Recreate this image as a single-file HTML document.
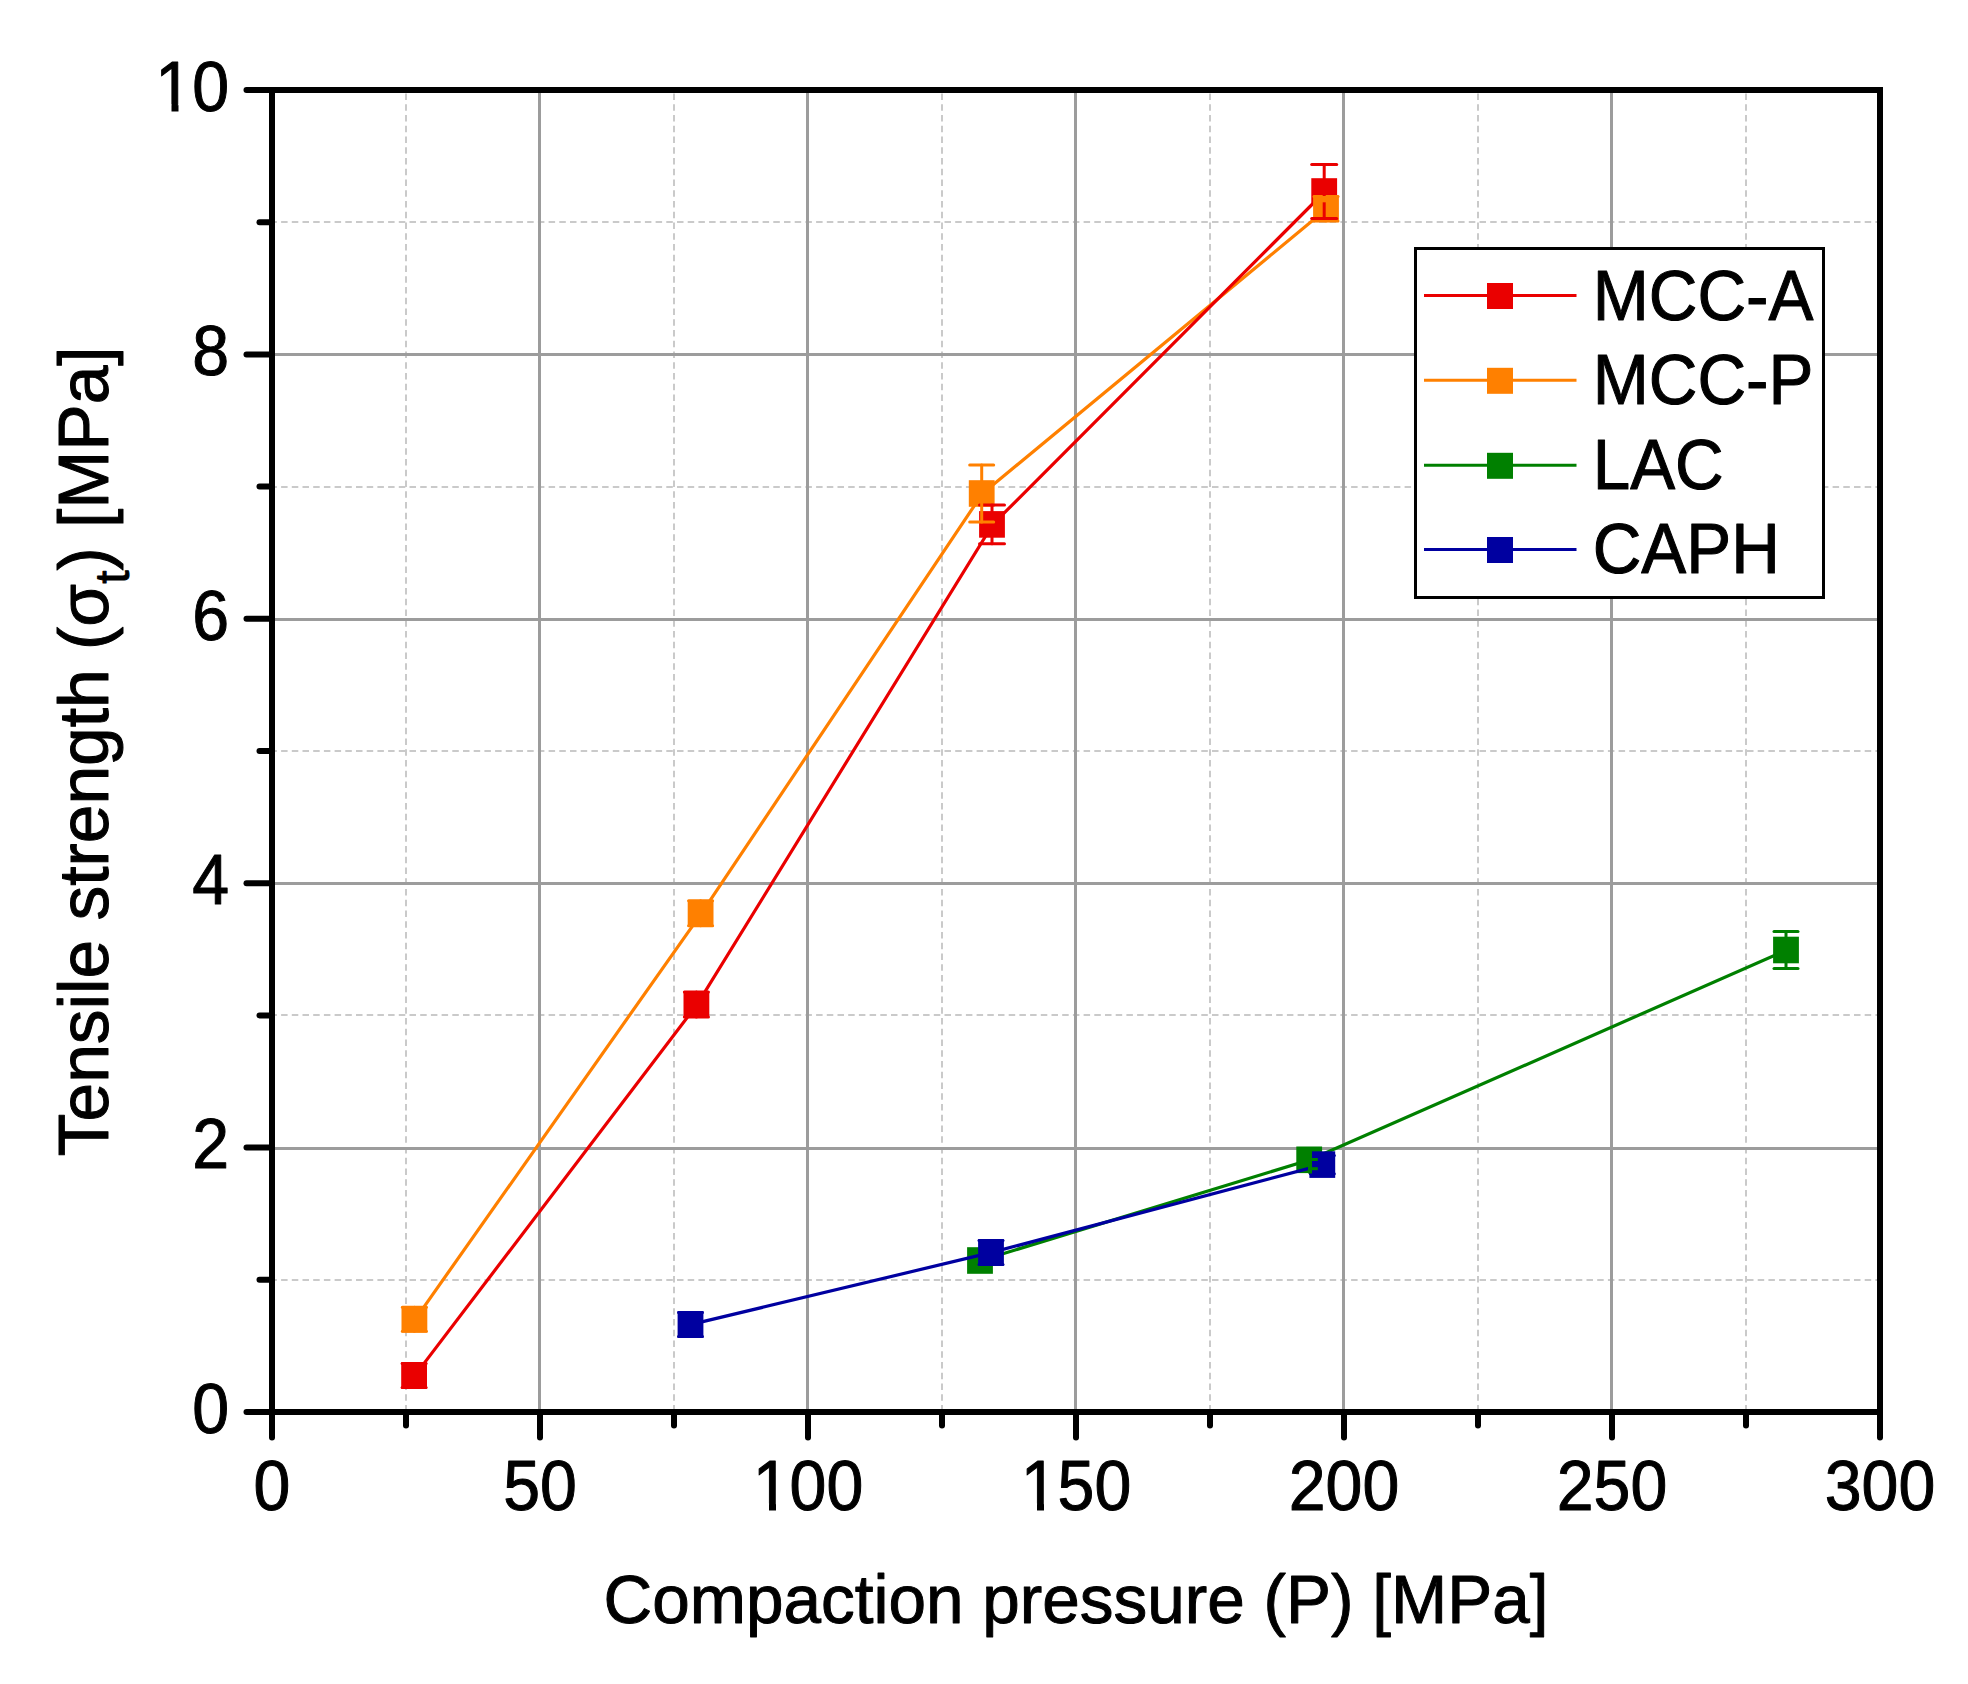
<!DOCTYPE html>
<html><head><meta charset="utf-8"><title>Tensile strength vs compaction pressure</title>
<style>
html,body{margin:0;padding:0;background:#fff;}
svg{display:block;}
text{font-family:"Liberation Sans",sans-serif;fill:#000;stroke:#000;stroke-width:1px;stroke-linejoin:round;}
</style></head><body>
<svg width="1968" height="1684" viewBox="0 0 1968 1684">
<rect x="0" y="0" width="1968" height="1684" fill="#fff"/>

<g stroke="#cacaca" stroke-width="2" fill="none">
<line x1="406" y1="93.5" x2="406" y2="1412.0" stroke-dasharray="6.5 4.25"/>
<line x1="674" y1="93.5" x2="674" y2="1412.0" stroke-dasharray="6.5 4.25"/>
<line x1="942" y1="93.5" x2="942" y2="1412.0" stroke-dasharray="6.5 4.25"/>
<line x1="1210" y1="93.5" x2="1210" y2="1412.0" stroke-dasharray="6.5 4.25"/>
<line x1="1478" y1="93.5" x2="1478" y2="1412.0" stroke-dasharray="6.5 4.25"/>
<line x1="1746" y1="93.5" x2="1746" y2="1412.0" stroke-dasharray="6.5 4.25"/>
<line x1="270.4" y1="1280" x2="1880.0" y2="1280" stroke-dasharray="6.5 4.2"/>
<line x1="270.4" y1="1015" x2="1880.0" y2="1015" stroke-dasharray="6.5 4.2"/>
<line x1="270.4" y1="751" x2="1880.0" y2="751" stroke-dasharray="6.5 4.2"/>
<line x1="270.4" y1="487" x2="1880.0" y2="487" stroke-dasharray="6.5 4.2"/>
<line x1="270.4" y1="222" x2="1880.0" y2="222" stroke-dasharray="6.5 4.2"/>
</g>
<g stroke="#9c9c9c" stroke-width="3" fill="none">
<line x1="539.5" y1="90.0" x2="539.5" y2="1412.0"/>
<line x1="807.5" y1="90.0" x2="807.5" y2="1412.0"/>
<line x1="1075.5" y1="90.0" x2="1075.5" y2="1412.0"/>
<line x1="1343.5" y1="90.0" x2="1343.5" y2="1412.0"/>
<line x1="1611.5" y1="90.0" x2="1611.5" y2="1412.0"/>
<line x1="272.0" y1="1148.5" x2="1880.0" y2="1148.5"/>
<line x1="272.0" y1="883.5" x2="1880.0" y2="883.5"/>
<line x1="272.0" y1="619.5" x2="1880.0" y2="619.5"/>
<line x1="272.0" y1="354.5" x2="1880.0" y2="354.5"/>
</g>
<g>
<polyline points="980.8,1260.5 1310.0,1159.8 1786.8,950.0" fill="none" stroke="#008000" stroke-width="3.2"/>
<rect x="967.1" y="1247.2" width="25.8" height="26.6" fill="#008000"/>
<rect x="1296.3" y="1146.5" width="25.8" height="26.6" fill="#008000"/>
<rect x="1773.1" y="936.7" width="25.8" height="26.6" fill="#008000"/>
<g stroke="#008000" stroke-width="3" stroke-linecap="round" fill="none"><line x1="1786.0" y1="931.5" x2="1786.0" y2="968.5"/><line x1="1774.0" y1="931.5" x2="1798.0" y2="931.5"/><line x1="1774.0" y1="968.5" x2="1798.0" y2="968.5"/></g>
<polyline points="691.3,1324.4 991.8,1252.4 1323.1,1164.6" fill="none" stroke="#0000a0" stroke-width="3.2"/>
<rect x="677.6" y="1311.1" width="25.8" height="26.6" fill="#0000a0"/>
<rect x="978.1" y="1239.1" width="25.8" height="26.6" fill="#0000a0"/>
<rect x="1309.4" y="1151.3" width="25.8" height="26.6" fill="#0000a0"/>
<g stroke="#0000a0" stroke-width="3" stroke-linecap="round" fill="none"><line x1="690.5" y1="1312.4" x2="690.5" y2="1336.4"/><line x1="678.5" y1="1312.4" x2="702.5" y2="1312.4"/><line x1="678.5" y1="1336.4" x2="702.5" y2="1336.4"/></g>
<g stroke="#0000a0" stroke-width="3" stroke-linecap="round" fill="none"><line x1="991.0" y1="1240.4" x2="991.0" y2="1264.4"/><line x1="979.0" y1="1240.4" x2="1003.0" y2="1240.4"/><line x1="979.0" y1="1264.4" x2="1003.0" y2="1264.4"/></g>
<g stroke="#0000a0" stroke-width="3" stroke-linecap="round" fill="none"><line x1="1322.3" y1="1155.4" x2="1322.3" y2="1173.8"/><line x1="1310.3" y1="1155.4" x2="1334.3" y2="1155.4"/><line x1="1310.3" y1="1173.8" x2="1334.3" y2="1173.8"/></g>
<rect x="1308" y="1151" width="4" height="22.5" fill="#008000"/>
<rect x="1309.8" y="1158" width="8" height="3" fill="#008000"/>
<rect x="1309.8" y="1167.2" width="8" height="3" fill="#008000"/>
<polyline points="415.2,1319.3 701.4,913.3 982.5,493.5 1326.8,208.8" fill="none" stroke="#ff8000" stroke-width="3.2"/>
<polyline points="414.9,1375.4 697.2,1004.4 992.8,524.4 1325.0,191.5" fill="none" stroke="#ea0000" stroke-width="3.2"/>
<rect x="401.5" y="1306.0" width="25.8" height="26.6" fill="#ff8000"/>
<rect x="687.7" y="900.0" width="25.8" height="26.6" fill="#ff8000"/>
<rect x="968.8" y="480.2" width="25.8" height="26.6" fill="#ff8000"/>
<rect x="401.2" y="1362.1" width="25.8" height="26.6" fill="#ea0000"/>
<rect x="683.5" y="991.1" width="25.8" height="26.6" fill="#ea0000"/>
<rect x="979.1" y="511.1" width="25.8" height="26.6" fill="#ea0000"/>
<rect x="1311.3" y="178.2" width="25.8" height="26.6" fill="#ea0000"/>
<rect x="1313.1" y="195.5" width="25.8" height="26.6" fill="#ff8000"/>
<g stroke="#ff8000" stroke-width="3" stroke-linecap="round" fill="none"><line x1="414.4" y1="1307.3" x2="414.4" y2="1331.3"/><line x1="402.4" y1="1307.3" x2="426.4" y2="1307.3"/><line x1="402.4" y1="1331.3" x2="426.4" y2="1331.3"/></g>
<g stroke="#ff8000" stroke-width="3" stroke-linecap="round" fill="none"><line x1="700.6" y1="900.8" x2="700.6" y2="925.8"/><line x1="688.6" y1="900.8" x2="712.6" y2="900.8"/><line x1="688.6" y1="925.8" x2="712.6" y2="925.8"/></g>
<g stroke="#ff8000" stroke-width="3" stroke-linecap="round" fill="none"><line x1="1326.0" y1="196.5" x2="1326.0" y2="221.1"/><line x1="1314.0" y1="196.5" x2="1338.0" y2="196.5"/><line x1="1314.0" y1="221.1" x2="1338.0" y2="221.1"/></g>
<g stroke="#ea0000" stroke-width="3" stroke-linecap="round" fill="none"><line x1="414.1" y1="1363.4" x2="414.1" y2="1387.4"/><line x1="402.1" y1="1363.4" x2="426.1" y2="1363.4"/><line x1="402.1" y1="1387.4" x2="426.1" y2="1387.4"/></g>
<g stroke="#ea0000" stroke-width="3" stroke-linecap="round" fill="none"><line x1="696.4" y1="991.9" x2="696.4" y2="1016.9"/><line x1="684.4" y1="991.9" x2="708.4" y2="991.9"/><line x1="684.4" y1="1016.9" x2="708.4" y2="1016.9"/></g>
<g stroke="#ea0000" stroke-width="3" stroke-linecap="round" fill="none"><line x1="992.0" y1="505.0" x2="992.0" y2="543.8"/><line x1="979.5" y1="505.0" x2="1004.5" y2="505.0"/><line x1="979.5" y1="543.8" x2="1004.5" y2="543.8"/></g>
<g stroke="#ff8000" stroke-width="3" stroke-linecap="round" fill="none"><line x1="981.7" y1="465.0" x2="981.7" y2="522.0"/><line x1="969.7" y1="465.0" x2="993.7" y2="465.0"/><line x1="969.7" y1="522.0" x2="993.7" y2="522.0"/></g>
<g stroke="#ea0000" stroke-width="3" stroke-linecap="round" fill="none"><line x1="1324.2" y1="164.6" x2="1324.2" y2="218.4"/><line x1="1311.7" y1="164.6" x2="1336.7" y2="164.6"/><line x1="1311.7" y1="218.4" x2="1336.7" y2="218.4"/></g>
<rect x="1322" y="196" width="6" height="6.3" fill="#ff8000"/>
</g>
<rect x="1415.5" y="248.5" width="408" height="349" fill="#fff" stroke="#000" stroke-width="3"/>
<line x1="1424" y1="295.5" x2="1576.5" y2="295.5" stroke="#ea0000" stroke-width="3"/>
<rect x="1487" y="283.0" width="26" height="26" fill="#ea0000"/>
<text transform="translate(1592.7,319.5) scale(0.9625,1.01)" font-size="70">MCC-A</text>
<line x1="1424" y1="380.3" x2="1576.5" y2="380.3" stroke="#ff8000" stroke-width="3"/>
<rect x="1487" y="367.8" width="26" height="26" fill="#ff8000"/>
<text transform="translate(1592.7,404) scale(0.9625,1.01)" font-size="70">MCC-P</text>
<line x1="1424" y1="465.3" x2="1576.5" y2="465.3" stroke="#008000" stroke-width="3"/>
<rect x="1487" y="452.8" width="26" height="26" fill="#008000"/>
<text transform="translate(1592.7,488.5) scale(0.9625,1.01)" font-size="70">LAC</text>
<line x1="1424" y1="549.5" x2="1576.5" y2="549.5" stroke="#0000a0" stroke-width="3"/>
<rect x="1487" y="537.0" width="26" height="26" fill="#0000a0"/>
<text transform="translate(1592.7,572.5) scale(0.9625,1.01)" font-size="70">CAPH</text>
<g stroke="#000" stroke-width="6" fill="none" stroke-linecap="round">
<line x1="272.0" y1="1412.0" x2="272.0" y2="1437.5"/>
<line x1="406.0" y1="1412.0" x2="406.0" y2="1425.5"/>
<line x1="540.0" y1="1412.0" x2="540.0" y2="1437.5"/>
<line x1="674.0" y1="1412.0" x2="674.0" y2="1425.5"/>
<line x1="808.0" y1="1412.0" x2="808.0" y2="1437.5"/>
<line x1="942.0" y1="1412.0" x2="942.0" y2="1425.5"/>
<line x1="1076.0" y1="1412.0" x2="1076.0" y2="1437.5"/>
<line x1="1210.0" y1="1412.0" x2="1210.0" y2="1425.5"/>
<line x1="1344.0" y1="1412.0" x2="1344.0" y2="1437.5"/>
<line x1="1478.0" y1="1412.0" x2="1478.0" y2="1425.5"/>
<line x1="1612.0" y1="1412.0" x2="1612.0" y2="1437.5"/>
<line x1="1746.0" y1="1412.0" x2="1746.0" y2="1425.5"/>
<line x1="1880.0" y1="1412.0" x2="1880.0" y2="1437.5"/>
<line x1="272.0" y1="1412.0" x2="246.5" y2="1412.0"/>
<line x1="272.0" y1="1279.8" x2="259.5" y2="1279.8"/>
<line x1="272.0" y1="1147.6" x2="246.5" y2="1147.6"/>
<line x1="272.0" y1="1015.4" x2="259.5" y2="1015.4"/>
<line x1="272.0" y1="883.2" x2="246.5" y2="883.2"/>
<line x1="272.0" y1="751.0" x2="259.5" y2="751.0"/>
<line x1="272.0" y1="618.8" x2="246.5" y2="618.8"/>
<line x1="272.0" y1="486.6" x2="259.5" y2="486.6"/>
<line x1="272.0" y1="354.4" x2="246.5" y2="354.4"/>
<line x1="272.0" y1="222.2" x2="259.5" y2="222.2"/>
<line x1="272.0" y1="90.0" x2="246.5" y2="90.0"/>
</g>
<rect x="272.0" y="90.0" width="1608.0" height="1322.0" fill="none" stroke="#000" stroke-width="6"/>
<text transform="translate(272.0,1509.7) scale(0.946,1.003)" font-size="70" text-anchor="middle">0</text>
<text transform="translate(540.0,1509.7) scale(0.946,1.003)" font-size="70" text-anchor="middle">50</text>
<text transform="translate(808.0,1509.7) scale(0.946,1.003)" font-size="70" text-anchor="middle">100</text>
<text transform="translate(1076.0,1509.7) scale(0.946,1.003)" font-size="70" text-anchor="middle">150</text>
<text transform="translate(1344.0,1509.7) scale(0.946,1.003)" font-size="70" text-anchor="middle">200</text>
<text transform="translate(1612.0,1509.7) scale(0.946,1.003)" font-size="70" text-anchor="middle">250</text>
<text transform="translate(1880.0,1509.7) scale(0.946,1.003)" font-size="70" text-anchor="middle">300</text>
<text transform="translate(229.0,1432.8) scale(0.946,1.003)" font-size="70" text-anchor="end">0</text>
<text transform="translate(229.0,1168.4) scale(0.946,1.003)" font-size="70" text-anchor="end">2</text>
<text transform="translate(229.0,904.0) scale(0.946,1.003)" font-size="70" text-anchor="end">4</text>
<text transform="translate(229.0,639.6) scale(0.946,1.003)" font-size="70" text-anchor="end">6</text>
<text transform="translate(229.0,375.2) scale(0.946,1.003)" font-size="70" text-anchor="end">8</text>
<text transform="translate(229.0,110.8) scale(0.946,1.003)" font-size="70" text-anchor="end">10</text>
<rect x="159" y="104.4" width="12.5" height="8.1" fill="#fff"/>
<rect x="178.5" y="104.4" width="12.5" height="8.1" fill="#fff"/>
<rect x="756" y="1503.4" width="13.0" height="8.6" fill="#fff"/>
<rect x="776" y="1503.4" width="13.0" height="8.6" fill="#fff"/>
<rect x="1024" y="1503.4" width="13.0" height="8.6" fill="#fff"/>
<rect x="1044" y="1503.4" width="13.0" height="8.6" fill="#fff"/>
<text transform="translate(1076.0,1623.0) scale(0.964,0.985)" font-size="70" text-anchor="middle">Compaction pressure (P) [MPa]</text>
<text transform="translate(107.8,751.3) rotate(-90) scale(1,1.0)" font-size="69.55" text-anchor="middle">Tensile strength (σ<tspan font-size="48" dy="21.3">t</tspan><tspan dy="-21.3">) [MPa]</tspan></text>
</svg></body></html>
